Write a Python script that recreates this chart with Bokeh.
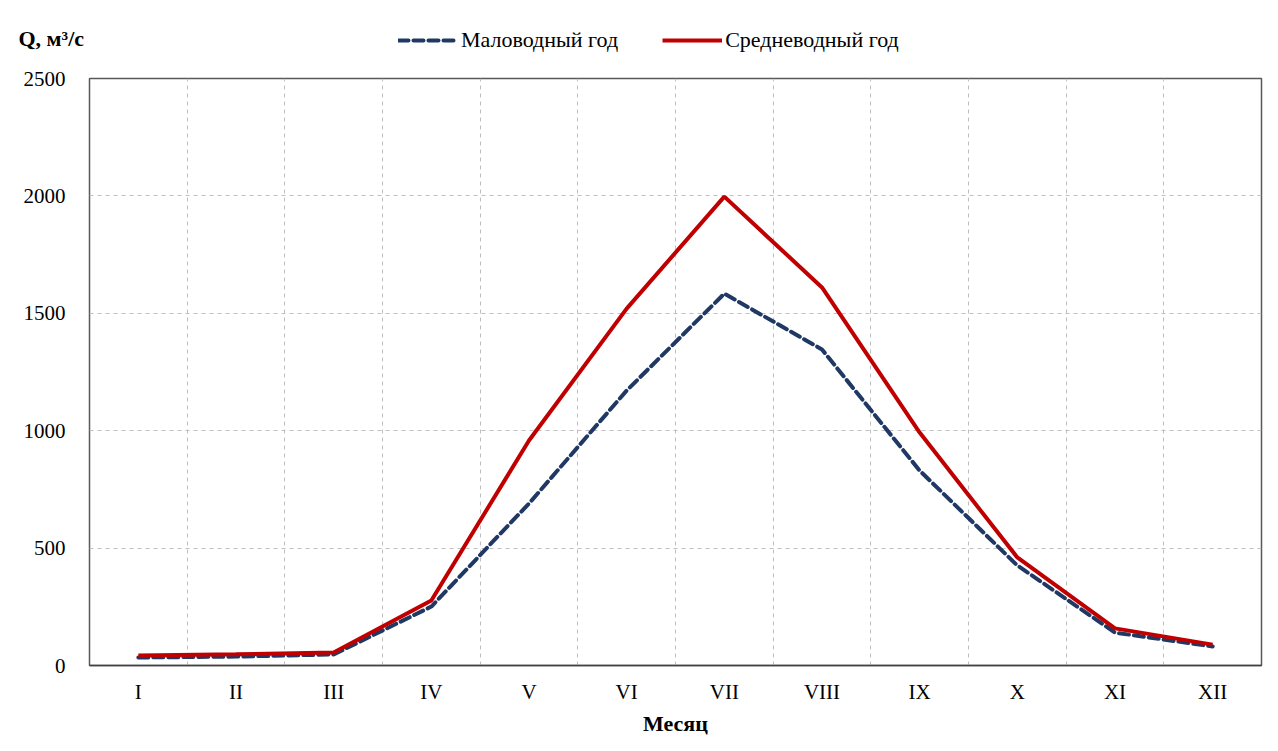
from bokeh.plotting import figure
from bokeh.models import Range1d, FixedTicker, Legend, LegendItem, Label
from bokeh.layouts import column
from bokeh.embed import file_html
from bokeh.resources import INLINE

months = ["I", "II", "III", "IV", "V", "VI", "VII", "VIII", "IX", "X", "XI", "XII"]
low_water = [34, 38, 47, 251, 690, 1171, 1584, 1346, 830, 426, 140, 81]
mean_water = [43, 48, 55, 277, 958, 1520, 1997, 1610, 992, 460, 158, 89]
y_ticks = [0, 500, 1000, 1500, 2000, 2500]
series_names = ["Маловодный год", "Средневодный год"]

x = list(range(1, len(months) + 1))
FONT = "Liberation Serif"
BLUE = "#1F3864"
RED = "#C00000"
W = 1278
TOP_H = 68

# --- header strip: y-axis title and legend ---
top = figure(width=W, height=TOP_H, output_backend="svg", toolbar_location=None,
             x_range=Range1d(0, W), y_range=Range1d(0, TOP_H),
             min_border=0, min_border_left=0, min_border_right=0,
             min_border_top=0, min_border_bottom=0)
top.frame_align = False
top.axis.visible = False
top.grid.visible = False
top.outline_line_color = None
top.background_fill_color = "white"
top.border_fill_color = "white"

nan = float("nan")
d_low = top.line([nan], [nan], line_color=BLUE, line_width=4, line_dash="10 5", line_cap="round")
d_mean = top.line([nan], [nan], line_color=RED, line_width=4)

top.add_layout(Label(x=18, y=30, x_units="screen", y_units="screen", text="Q, м³/с",
                     text_font=FONT, text_font_style="bold", text_font_size="22px",
                     text_color="black", text_baseline="middle"))

legend = Legend(items=[LegendItem(label=series_names[0], renderers=[d_low]),
                       LegendItem(label=series_names[1], renderers=[d_mean])],
                orientation="horizontal", location=(398, 15),
                label_text_font=FONT, label_text_font_size="22px", label_text_color="black",
                glyph_width=60, glyph_height=22, label_standoff=3, spacing=44,
                padding=0, margin=0,
                background_fill_alpha=0, border_line_color=None)
top.add_layout(legend, "center")

# --- main chart ---
p = figure(width=W, height=751 - TOP_H, output_backend="svg", toolbar_location=None,
           x_range=Range1d(0.5, len(months) + 0.5), y_range=Range1d(0, 2500),
           min_border_left=89, min_border_right=17, min_border_top=10, min_border_bottom=86)
p.background_fill_color = "white"
p.border_fill_color = "white"
p.outline_line_color = "#595959"
p.outline_line_width = 1.5

p.line(x, low_water, line_color=BLUE, line_width=4, line_dash="10 5", line_cap="round")
p.line(x, mean_water, line_color=RED, line_width=4)

p.xaxis.ticker = FixedTicker(ticks=x)
p.xaxis.major_label_overrides = {i: m for i, m in zip(x, months)}
p.yaxis.ticker = FixedTicker(ticks=y_ticks)

for ax in (p.xaxis, p.yaxis):
    ax.major_tick_line_color = None
    ax.minor_tick_line_color = None
    ax.major_label_text_font = FONT
    ax.major_label_text_font_size = "21px"
    ax.major_label_text_color = "black"
p.yaxis.axis_line_color = None
p.xaxis.axis_line_color = "#404040"
p.xaxis.axis_line_width = 1.5
p.xaxis.major_label_standoff = 8
p.yaxis.major_label_standoff = 18

p.xaxis.axis_label = "Месяц"
p.xaxis.axis_label_text_font = FONT
p.xaxis.axis_label_text_font_style = "bold"
p.xaxis.axis_label_text_font_size = "22px"
p.xaxis.axis_label_text_color = "black"
p.xaxis.axis_label_standoff = 4

p.xgrid.ticker = FixedTicker(ticks=[i + 0.5 for i in x[:-1]])
p.xgrid.grid_line_color = "#BFBFBF"
p.xgrid.grid_line_dash = "4 4"
p.ygrid.ticker = FixedTicker(ticks=y_ticks[1:-1])
p.ygrid.grid_line_color = "#BFBFBF"
p.ygrid.grid_line_dash = "4 4"

layout = column(top, p, spacing=0)
open("out.html", "w").write(file_html(layout, INLINE))
